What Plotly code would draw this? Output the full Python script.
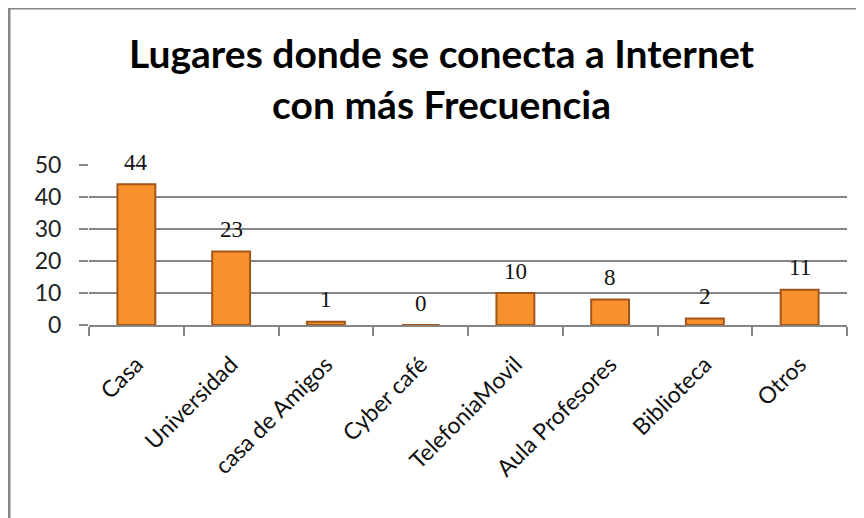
import plotly.graph_objects as go

categories = ["Casa", "Universidad", "casa de Amigos", "Cyber café",
              "TelefoniaMovil", "Aula Profesores", "Biblioteca", "Otros"]
values = [44, 23, 1, 0, 10, 8, 2, 11]
y_ticks = [0, 10, 20, 30, 40, 50]
title_text = "<b>Lugares donde se conecta a Internet<br>con más Frecuencia</b>"

W, H = 864, 518
OFF = 8  # page body margin offset
# target pixel positions in the screenshot
PL, PR, PT, PB = 89, 847, 165, 325
L, T = PL - OFF, PT - OFF
R = W - (PR - OFF)
B = H - (PB - OFF)
pw, ph = W - L - R, H - T - B

def px_x(p):
    return (p - OFF - L) / pw

def px_y(p):
    return (H - B - (p - OFF)) / ph

fig = go.Figure()
fig.add_trace(go.Bar(
    x=categories, y=values, width=0.4,
    marker=dict(color="#F7912C", line=dict(color="#A0561A", width=2)),
    hoverinfo="x+y",
))

for c, v in zip(categories, values):
    fig.add_annotation(x=c, y=v, text=str(v), showarrow=False,
                       yanchor="middle", yshift=22,
                       font=dict(family="Liberation Serif", size=23, color="#111"))

fig.add_annotation(xref="paper", yref="paper", x=px_x(442), y=px_y(79),
                   xanchor="center", yanchor="middle", showarrow=False,
                   text=title_text,
                   font=dict(family="Lato", size=39, color="#000"))

# chart border (left and top edges visible)
fig.add_shape(type="line", xref="paper", yref="paper",
              x0=px_x(9), x1=px_x(9), y0=px_y(8), y1=px_y(540),
              line=dict(color="#868686", width=3))
fig.add_shape(type="line", xref="paper", yref="paper",
              x0=px_x(9), x1=px_x(890), y0=px_y(8), y1=px_y(8),
              line=dict(color="#868686", width=3))

fig.update_layout(
    width=W, height=H,
    margin=dict(l=L, r=R, t=T, b=B, autoexpand=False),
    paper_bgcolor="white", plot_bgcolor="white",
    showlegend=False,
    bargap=0.6,
    font=dict(family="Lato", color="#222"),
)
fig.update_yaxes(range=[0, 50], tickvals=y_ticks, showgrid=True,
                 gridcolor="#868686", gridwidth=1.5, zeroline=False,
                 ticks="outside", ticklen=9, tickcolor="#868686", tickwidth=1.5,
                 showline=False, tickfont=dict(family="Lato", size=23, color="#222"),
                 ticklabelstandoff=13)
fig.update_xaxes(showline=True, linecolor="#868686", linewidth=2,
                 ticks="outside", tickson="boundaries", ticklen=9,
                 tickcolor="#868686", tickwidth=1.5, tickangle=-45,
                 ticklabelstandoff=15,
                 tickfont=dict(family="Lato", size=23, color="#111"))

fig.write_html("out.html")
